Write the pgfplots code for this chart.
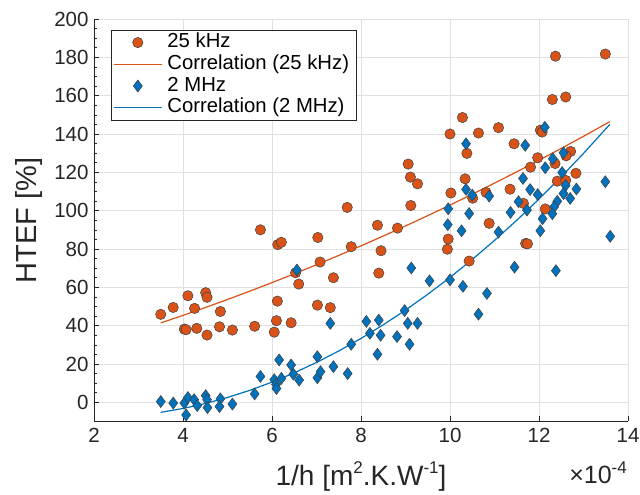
\documentclass[border=0pt]{standalone}
\usepackage{fontspec}
\setmainfont{Liberation Sans}
\usepackage{pgfplots}
\pgfplotsset{compat=1.18}
\definecolor{morange}{HTML}{D95319}
\definecolor{mblue}{HTML}{0072BD}
\definecolor{axgray}{HTML}{262626}
\pgfplotsset{
  marklegend/.style={legend image code/.code={\draw[##1] plot coordinates {(24pt,0pt)};}},
  linelegend/.style={legend image code/.code={\draw[##1] (0pt,0pt) -- (48pt,0pt);}},
}
\newcommand{\sups}[2]{\raisebox{0.42em}{\fontsize{#1}{#1}\selectfont #2}}
\begin{document}
\begin{tikzpicture}[x=1pt,y=1pt]
\useasboundingbox (0,0) rectangle (640,495);
\begin{axis}[
  at={(94pt,73.5pt)}, anchor=south west, scale only axis,
  width=534pt, height=402.5pt,
  xmin=2, xmax=14, ymin=-10, ymax=200,
  xtick={2,4,...,14}, ytick={0,20,...,200},
  minor y tick num=3,
  axis x line*=bottom, axis y line*=left,
  axis line style={axgray, line width=0.6pt, -},
  tick style={axgray, line width=0.6pt},
  tick align=inside,
  major tick length=5pt, minor tick length=3pt,
  grid=major, major grid style={black!12, line width=0.6pt},
  /pgf/number format/assume math mode=true,
  ticklabel style={font=\fontsize{20.5}{23}\selectfont, text=axgray},
  xticklabel style={yshift=-3pt},
  yticklabel style={xshift=-2pt},
  xlabel={1/h [m\sups{17}{2}.K.W\sups{17}{-1}]},
  ylabel={HTEF [\%]},
  xlabel style={font=\fontsize{28}{32}\selectfont, text=axgray,
    at={(axis description cs:0.5,-0.1578)}, anchor=base},
  ylabel style={font=\fontsize{29}{33}\selectfont, text=axgray,
    at={(axis description cs:-0.1073,0.5)}, anchor=base},
  legend cell align=left,
  legend style={at={(rel axis cs:0.0318,0.9727)}, anchor=north west,
    draw=axgray, line width=0.5pt, fill=white,
    font=\fontsize{20.3}{22}\selectfont, text=black,
    inner xsep=2pt, inner ysep=1.5pt,
    nodes={inner xsep=5pt, inner ysep=0.5pt, text height=15.5pt, text depth=5.2pt},
    /tikz/every even column/.style={column sep=0pt}},
]
\addplot[only marks, mark=*, mark size=5.2pt,
  mark options={fill=morange, draw=black!75, line width=0.5pt}, marklegend]
coordinates {
(3.50,45.9) (3.78,49.5) (4.11,55.6) (4.26,49.0) (4.51,57.2) (4.54,54.8)
(4.84,47.4) (4.03,38.2) (4.07,37.9) (4.31,38.6) (4.54,35.1) (4.82,39.4)
(5.11,37.7) (5.61,39.7) (5.74,90.0) (6.13,82.3) (6.21,83.5) (6.12,52.8)
(6.10,42.6) (6.05,36.6) (6.43,41.5) (6.60,61.7) (6.53,67.6) (7.03,86.0)
(7.08,73.2) (7.38,65.0) (7.02,50.7) (7.31,49.4) (7.78,81.2) (7.69,101.7)
(8.37,92.4) (8.82,90.9) (8.45,79.1) (8.40,67.4) (9.06,124.3) (9.11,117.5)
(9.27,114.0) (9.12,102.7) (9.96,85.2) (9.94,79.9) (10.28,148.6) (10.00,140.0)
(10.64,140.5) (11.09,143.3) (12.37,180.6) (13.49,181.7) (12.30,158.0) (12.60,159.3)
(12.03,142.0) (12.07,141.0) (11.44,134.9) (10.38,129.9) (10.34,116.6) (10.02,109.2)
(10.51,106.5) (10.81,109.5) (11.35,111.2) (11.81,122.7) (11.97,127.6) (12.36,124.6)
(12.71,130.9) (12.61,128.6) (12.83,119.5) (12.41,115.4) (12.60,115.8) (11.65,103.8)
(12.14,100.9) (10.88,93.4) (11.70,82.9) (11.74,82.7) (10.43,73.7)
};
\addlegendentry{25 kHz}
\addplot[morange, line width=1.2pt, no marks, linelegend]
coordinates {
(3.5,41.42) (4,45.36) (4.5,49.44) (5,53.65) (5.5,57.98) (6,62.45) (6.5,67.05)
(7,71.78) (7.5,76.64) (8,81.63) (8.5,86.76) (9,92.02) (9.5,97.40) (10,102.92)
(10.5,108.57) (11,114.36) (11.5,120.26) (12,126.31) (12.5,132.49) (13,138.8) (13.59,146.4)
};
\addlegendentry{Correlation (25 kHz)}
\addplot[only marks, mark=diamond*, mark size=6pt,
  mark options={fill=mblue, draw=black!75, line width=0.5pt}, marklegend]
coordinates {
(3.50,0.4) (3.78,-0.4) (4.03,-0.4) (4.07,-6.6) (4.11,2.5) (4.25,1.4)
(4.32,-1.7) (4.51,3.5) (4.54,1.4) (4.55,-2.8) (4.84,1.8) (4.82,-2.2)
(5.11,-0.9) (5.61,4.4) (5.74,13.5) (6.05,11.8) (6.09,9.3) (6.10,7.2)
(6.16,22.1) (6.21,12.5) (6.43,19.5) (6.48,14.7) (6.61,11.6) (7.02,23.8)
(7.02,12.8) (7.09,16.0) (7.38,18.6) (7.70,15.0) (7.78,30.3) (7.31,41.2)
(6.56,69.0) (8.12,42.2) (8.40,42.9) (8.20,36.0) (8.44,35.0) (8.81,34.3)
(8.98,47.9) (9.05,41.2) (9.27,41.2) (9.09,30.3) (8.37,25.1) (9.13,70.1)
(9.54,63.4) (10.00,63.9) (10.29,60.5) (10.64,46.0) (10.83,56.8) (9.96,101.0)
(9.95,92.7) (10.26,89.5) (10.36,111.1) (10.43,98.5) (10.36,134.9) (10.50,108.1)
(10.88,107.6) (11.09,88.8) (11.36,99.1) (11.73,100.3) (11.54,104.7) (11.64,116.8)
(11.69,134.1) (12.13,143.5) (12.14,122.4) (12.31,127.1) (12.55,130.2) (12.52,119.9)
(12.60,113.2) (12.84,111.3) (12.55,108.9) (12.70,106.4) (13.49,115.1) (13.60,86.6)
(11.80,111.0) (11.97,108.4) (12.41,104.9) (12.34,102.0) (12.30,98.4) (12.08,95.8)
(12.03,89.5) (11.45,70.5) (12.38,68.7)
};
\addlegendentry{2 MHz}
\addplot[mblue, line width=1.2pt, no marks, linelegend]
coordinates {
(3.5,-5.23) (4,-3.21) (4.5,-0.62) (5,2.53) (5.5,6.25) (6,10.54) (6.5,15.39)
(7,20.8) (7.5,26.79) (8,33.33) (8.5,40.44) (9,48.12) (9.5,56.37) (10,65.17)
(10.5,74.54) (11,84.48) (11.5,94.98) (12,106.05) (12.5,117.69) (13,129.88) (13.59,145.0)
};
\addlegendentry{Correlation (2 MHz)}
\end{axis}
\node[anchor=base east, inner sep=0pt, text=axgray, font=\fontsize{25}{28}\selectfont]
  at (627,11) {×10\sups{17}{-4}};
\end{tikzpicture}
\end{document}
